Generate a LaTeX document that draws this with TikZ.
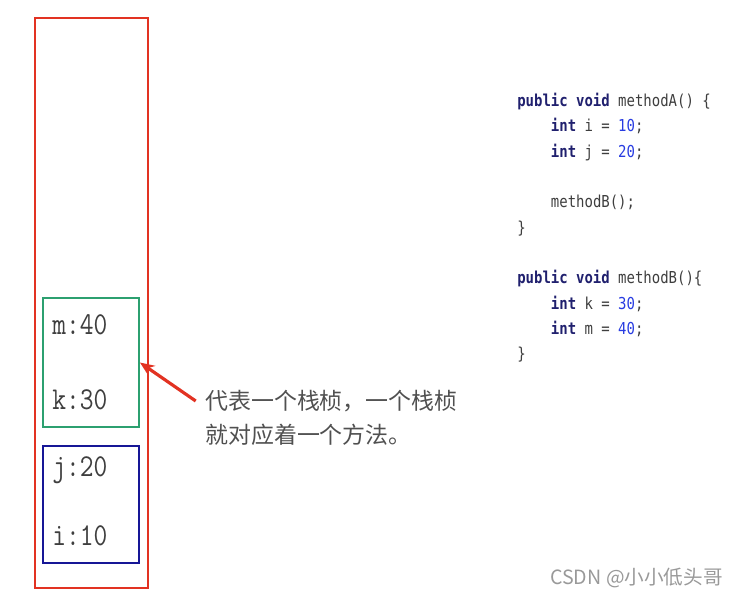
\documentclass[tikz,border=0pt]{standalone}
\usepackage{fontspec}
\usepackage{xcolor}
\usetikzlibrary{positioning,arrows.meta}
\newfontfamily\cjk{Noto Sans CJK SC}
\newfontfamily\codefont[FakeStretch=0.85]{DejaVu Sans Mono}
\newfontfamily\valfont[FakeStretch=0.84]{Latin Modern Mono}
\definecolor{stackred}{RGB}{226, 50, 34}
\definecolor{framegreen}{RGB}{44, 160, 112}
\definecolor{frameblue}{RGB}{22, 22, 150}
\definecolor{keyword}{RGB}{32, 32, 110}
\definecolor{number}{RGB}{40, 60, 225}
\definecolor{codegray}{RGB}{62, 62, 62}
\definecolor{notegray}{RGB}{80, 80, 80}
\newcommand{\kw}[1]{\textcolor{keyword}{\bfseries #1}}
\newcommand{\nb}[1]{\textcolor{number}{#1}}
\newcommand{\ind}{\hphantom{xxxx}}
\tikzstyle{stackbox} = [
    rectangle,
    draw=stackred,
    line width=1.5pt
]
\tikzstyle{framebox} = [
    rectangle,
    line width=1.5pt,
    minimum width=2.54cm
]
\tikzstyle{val} = [
    font=\valfont\fontsize{24}{24}\selectfont,
    text=codegray,
    anchor=west
]
\tikzstyle{arrow} = [
    line width=2.4pt,
    -{Stealth[length=11pt, width=9pt]},
    draw=stackred
]

\begin{document}
\begin{tikzpicture}[
        x=0.0265cm, y=-0.0265cm,
        every node/.style={
            inner sep=0pt
        }
    ]
        \useasboundingbox (0,0) rectangle (737,599);

        % stack and its frames
        \node[stackbox, minimum width=2.99cm, minimum height=15.1cm] (stack) at (91.5,303) {};
        \node[framebox, draw=framegreen, minimum height=3.42cm] (frameB) at (91,362.5) {};
        \node[framebox, draw=frameblue, minimum height=3.10cm] (frameA) at (91,504.5) {};

        \node[val] (m) at (52,325) {m:40};
        \node[val] (k) at (52,400) {k:30};
        \node[val] (j) at (52,470) {j:20};
        \node[val] (i) at (52,536) {i:10};

        % note
        \node[font=\cjk\fontsize{17.3}{17.3}\selectfont, text=notegray, anchor=west] (note1) at (205,401) {代表一个栈桢，一个栈桢};
        \node[font=\cjk\fontsize{17.3}{17.3}\selectfont, text=notegray, below=9pt of note1.south west, anchor=north west] (note2) {就对应着一个方法。};
        \draw[arrow] ([xshift=-7pt]note1.west) -- (frameB.east);

        % code
        \node[font=\codefont\fontsize{12.4}{19.1}\selectfont, text=codegray, align=left, anchor=north west] (methods) at (517,93) {
            \kw{public void} methodA() \{\\
            \ind\kw{int} i = \nb{10};\\
            \ind\kw{int} j = \nb{20};\\
            \mbox{}\\
            \ind methodB();\\
            \}\\
            \mbox{}\\
            \kw{public void} methodB()\{\\
            \ind\kw{int} k = \nb{30};\\
            \ind\kw{int} m = \nb{40};\\
            \}
        };

        \node[font=\cjk\fontsize{14.8}{14.8}\selectfont, text=black!40, anchor=east] (csdn) at (723,578) {CSDN @小小低头哥};
    \end{tikzpicture}
\end{document}
